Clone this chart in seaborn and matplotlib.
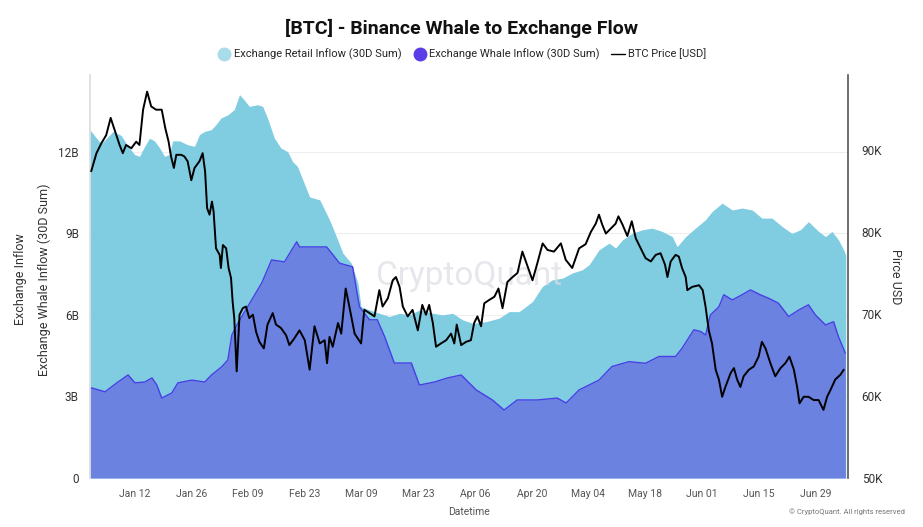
import pandas as pd
import seaborn as sns
import matplotlib.pyplot as plt
from matplotlib.lines import Line2D

start = pd.Timestamp("2026-01-01")

# retail inflow (30D sum), billions - days since Jan 1
retail_day = [0.0, 0.3, 1.6, 2.8, 5.7, 7.7, 9.4, 11.0, 12.2, 13.5, 14.7, 15.9, 17.2, 18.4, 19.6,
              20.4, 22.1, 24.1, 25.8, 27.0, 28.3, 29.9, 31.1, 32.3, 34.0, 35.6, 36.9, 38.1,
              39.3, 41.4, 42.6, 43.8, 45.5, 47.1, 48.8, 50.0, 51.2, 52.7, 54.2, 56.7, 59.1,
              60.8, 62.4, 64.5, 66.1, 66.9, 69.0, 71.4, 73.9, 76.4, 78.8, 81.3, 84.6, 87.0,
              89.5, 91.9, 94.4, 97.7, 101.0, 103.4, 105.9, 109.2, 111.6, 114.1, 116.6, 119.0,
              121.5, 123.2, 125.6, 128.1, 129.7, 131.4, 133.8, 136.3, 138.7, 141.2, 143.7,
              144.9, 147.0, 149.4, 151.9, 153.5, 156.0, 158.5, 160.9, 163.4, 165.8, 168.3,
              170.8, 173.2, 175.3, 177.3, 179.8, 181.5, 183.1, 184.7, 186.0, 186.5]
retail_val = [12.8, 12.75, 12.5, 12.3, 12.75, 12.6, 12.2, 11.9, 11.83, 12.2, 12.5, 12.4, 12.14, 11.83, 11.9,
              12.4, 12.4, 12.26, 12.2, 12.63, 12.75, 12.81, 13.0, 13.24, 13.36, 13.55, 14.1, 13.9,
              13.67, 13.73, 13.67, 13.24, 12.5, 12.14, 12.0, 11.64, 11.46, 10.9, 10.34, 10.23, 9.5,
              8.88, 8.27, 7.9, 7.17, 6.3, 6.18, 6.06, 5.94, 6.06, 6.0, 6.18, 6.06, 6.0,
              6.06, 5.82, 5.69, 5.75, 5.88, 6.12, 6.12, 6.49, 7.04, 7.29, 7.35, 7.54,
              7.66, 7.85, 8.39, 8.64, 8.46, 8.76, 9.0, 9.13, 9.19, 9.07, 8.88,
              8.51, 8.88, 9.19, 9.5, 9.8, 10.11, 9.86, 9.93, 9.86, 9.56, 9.56,
              9.25, 9.0, 9.13, 9.43, 9.07, 8.88, 9.07, 8.76, 8.39, 8.2]

# whale inflow (30D sum), billions
whale_day = [0, 0.5, 3.7, 6.9, 9.4, 11.1, 13.5, 15.3, 16.5, 17.7, 20.2, 21.7, 25.1, 28.3, 30.0,
             32.5, 34.0, 35.0, 36.5, 39.9, 42.4, 44.8, 48.0, 51.0, 51.7, 58.4, 61.6, 64.8,
             66.5, 69.0, 70.9, 72.7, 75.1, 79.3, 81.3, 85.0, 88.2, 91.6, 95.3, 99.3, 102.2,
             105.4, 110.3, 115.3, 117.5, 120.7, 125.6, 128.8, 133.0, 137.1, 140.4, 144.5,
             146.1, 149.0, 150.7, 151.9, 153.1, 155.2, 156.4, 158.5, 160.9, 163.0, 165.4,
             167.5, 169.9, 172.4, 174.9, 177.3, 179.0, 181.5, 183.5, 184.7, 186.4]
whale_val = [3.31, 3.31, 3.17, 3.53, 3.79, 3.5, 3.53, 3.68, 3.42, 2.94, 3.13, 3.5, 3.6, 3.53, 3.79,
             4.09, 4.34, 5.26, 5.7, 6.55, 7.18, 8.02, 7.95, 8.69, 8.5, 8.5, 7.9, 7.77,
             6.3, 5.82, 5.82, 5.2, 4.23, 4.23, 3.42, 3.53, 3.68, 3.79, 3.24, 2.87, 2.5,
             2.87, 2.87, 2.94, 2.76, 3.24, 3.6, 4.1, 4.28, 4.22, 4.47, 4.47,
             4.77, 5.45, 5.39, 5.26, 6.0, 6.3, 6.74, 6.55, 6.74, 6.92, 6.74,
             6.61, 6.43, 5.94, 6.18, 6.37, 6.0, 5.63, 5.75, 5.2, 4.59]

# BTC price, thousands USD
price_day = [0.3, 1.6, 2.8, 4.0, 5.1, 6.1, 7.3, 8.1, 8.9, 10.2, 11.4, 12.2, 13.1, 14.1, 15.1,
             16.3, 17.7, 18.6, 19.4, 20.0, 20.7, 21.3, 22.5, 23.3, 24.1, 25.0, 25.8, 27.0,
             27.8, 28.4, 28.9, 29.5, 30.1, 30.5, 31.1, 32.0, 32.3, 32.8, 33.6, 34.2, 34.8,
             35.2, 35.6, 36.2, 36.9, 37.7, 38.5, 39.3, 40.2, 41.0, 41.8, 42.9, 43.8, 45.1,
             45.9, 47.1, 48.4, 49.2, 50.4, 51.7, 53.0, 54.2, 55.4, 56.7, 57.9, 58.5, 59.1,
             59.9, 61.2, 62.0, 63.1, 64.0, 65.3, 66.9, 67.7, 69.0, 70.2, 71.4, 72.2, 73.5,
             74.7, 75.5, 76.4, 77.2, 78.4, 79.6, 80.9, 82.0, 82.9, 83.7, 84.6, 85.4, 86.6,
             87.9, 89.1, 89.9, 90.5, 91.6, 92.8, 94.0, 94.8, 95.6, 96.5, 97.3, 98.5, 99.8,
             100.8, 101.8, 103.0, 104.3, 105.5, 106.7, 108.0, 109.2, 110.4, 111.7, 112.9,
             114.5, 116.2, 117.4, 119.0, 120.7, 122.3, 123.6, 124.8, 125.6, 126.4, 127.3,
             128.5, 129.7, 130.4, 131.4, 132.6, 133.7, 134.7, 135.9, 137.1, 138.4, 139.6,
             140.8, 141.9, 142.5, 143.3, 144.5, 145.3, 146.1, 147.0, 147.4, 148.6, 150.3,
             151.2, 151.9, 152.7, 153.5, 154.4, 155.2, 156.0, 156.8, 158.1, 158.9, 159.7,
             160.5, 161.3, 162.6, 163.8, 165.0, 165.8, 166.7, 167.9, 169.1, 170.4, 171.6,
             172.6, 173.7, 174.5, 175.1, 176.1, 177.3, 178.6, 179.8, 181.0, 181.9, 182.7,
             183.9, 185.2, 186.0]
price_val = [87.4, 89.6, 90.8, 91.8, 93.9, 92.4, 90.6, 89.6, 90.6, 90.2, 91.0, 90.6, 94.9, 97.1, 95.3,
             94.9, 94.9, 92.6, 91.0, 89.2, 87.8, 89.4, 89.4, 89.2, 88.6, 86.3, 87.8, 88.6,
             89.6, 87.4, 82.9, 82.1, 83.7, 82.5, 78.0, 77.2, 75.6, 78.4, 78.0, 75.6, 74.4,
             71.5, 69.5, 63.0, 69.9, 70.7, 70.9, 69.5, 69.9, 67.8, 66.6, 65.8, 68.7, 70.1,
             68.7, 68.3, 67.4, 66.2, 67.0, 68.0, 66.8, 63.2, 68.5, 66.4, 66.8, 64.0, 67.2,
             66.0, 68.9, 67.6, 73.1, 70.9, 67.6, 66.4, 70.5, 70.1, 69.7, 72.9, 70.9, 71.9,
             74.1, 74.5, 73.3, 70.9, 69.7, 70.5, 68.0, 71.1, 69.9, 71.1, 68.9, 66.0, 66.4,
             66.8, 67.6, 66.4, 68.7, 66.2, 66.6, 66.8, 68.9, 69.7, 68.5, 71.3, 71.7, 72.1,
             73.1, 70.7, 73.9, 74.5, 75.0, 77.6, 75.8, 74.1, 76.2, 78.6, 77.8,
             77.6, 78.6, 76.6, 75.6, 78.0, 78.5, 80.0, 81.0, 82.1, 80.9, 79.8,
             80.4, 81.0, 81.9, 80.9, 79.5, 81.3, 79.2, 78.0, 76.8, 76.4, 77.2,
             77.4, 76.0, 74.5, 76.4, 77.2, 77.0, 75.6, 74.5, 72.9, 73.3, 73.5,
             72.9, 70.9, 68.0, 66.4, 63.2, 62.0, 59.9, 61.1, 62.8, 63.4, 62.0,
             61.1, 62.4, 63.2, 63.6, 64.8, 66.6, 65.8, 64.0, 62.4, 63.4, 64.0,
             64.8, 63.2, 61.1, 59.1, 59.9, 59.9, 59.5, 59.5, 58.3, 59.9, 60.7,
             62.0, 62.6, 63.2]

retail = pd.DataFrame({"date": start + pd.to_timedelta(retail_day, unit="D"), "value": retail_val})
whale = pd.DataFrame({"date": start + pd.to_timedelta(whale_day, unit="D"), "value": whale_val})
price = pd.DataFrame({"date": start + pd.to_timedelta(price_day, unit="D"), "value": price_val})

sns.set_theme(style="white")
plt.rcParams["font.family"] = ["Roboto", "DejaVu Sans"]

retail_c = "#80cde2"
whale_fill = "#6b82e0"
whale_edge = "#4a3ee6"

fig = plt.figure(figsize=(9.23, 5.27), dpi=100)
ax = fig.add_axes([0.0975, 0.093, 0.821, 0.765])

ax.fill_between(retail["date"], retail["value"], color=retail_c, lw=0)
ax.fill_between(whale["date"], whale["value"], color=whale_fill, lw=0)
sns.lineplot(data=whale, x="date", y="value", ax=ax, color=whale_edge, lw=1)

ax.set_xlim(start, start + pd.Timedelta(days=187))
ax.set_ylim(0, 14.83)
ax.set_yticks([0, 3, 6, 9, 12])
ax.set_yticklabels(["0", "3B", "6B", "9B", "12B"])
ticks = pd.date_range("2026-01-12", "2026-06-29", freq="14D")
ax.set_xticks(ticks)
ax.set_xticklabels([t.strftime("%b %d") for t in ticks])
ax.grid(axis="y", color="#eeeeee", lw=0.8)
ax.set_axisbelow(True)
ax.tick_params(axis="both", length=0, labelsize=7.5, labelcolor="#555555", pad=8)
ax.tick_params(axis="y", labelsize=8.5, labelcolor="#333333")
ax.set_xlabel("Datetime", fontsize=7.5, color="#555555", labelpad=6)
ax.set_ylabel("")
for s in ["top", "right", "bottom"]:
    ax.spines[s].set_visible(False)
ax.spines["left"].set_color("#dddddd")

fig.text(0.022, 0.47, "Exchange Inflow", rotation=90, ha="center", va="center", fontsize=9, color="#333333")
fig.text(0.048, 0.47, "Exchange Whale Inflow (30D Sum)", rotation=90, ha="center", va="center",
         fontsize=9, color="#333333")

ax2 = ax.twinx()
sns.lineplot(data=price, x="date", y="value", ax=ax2, color="black", lw=1.4)
ax2.set_ylim(50, 99.15)
ax2.set_yticks([50, 60, 70, 80, 90])
ax2.set_yticklabels(["50K", "60K", "70K", "80K", "90K"])
ax2.tick_params(axis="y", length=0, labelsize=8.5, labelcolor="#333333", pad=10)
ax2.set_ylabel("Pirce USD", rotation=270, fontsize=9, color="#333333", labelpad=14)
ax2.set_xlabel("")
for s in ["top", "left", "bottom"]:
    ax2.spines[s].set_visible(False)
ax2.spines["right"].set_color("#555555")
ax2.spines["right"].set_linewidth(1.2)

ax.text(0.5, 0.5, "CryptoQuant", transform=ax.transAxes, ha="center", va="center",
        fontsize=24, color="#dcdce4", alpha=0.7, zorder=5)

fig.suptitle("[BTC] - Binance Whale to Exchange Flow", y=0.965, fontsize=14, fontweight="bold", color="#111111")
handles = [
    Line2D([], [], marker="o", ls="", markersize=9, color="#a8dcea"),
    Line2D([], [], marker="o", ls="", markersize=9, color="#5a3de6"),
    Line2D([], [], color="black", lw=1),
]
fig.legend(handles, ["Exchange Retail Inflow (30D Sum)", "Exchange Whale Inflow (30D Sum)", "BTC Price [USD]"],
           loc="center", bbox_to_anchor=(0.5, 0.897), ncol=3, frameon=False, fontsize=8,
           handletextpad=0.2, columnspacing=1.0, handlelength=1.3)
fig.text(0.98, 0.03, "© CryptoQuant. All rights reserved", ha="right", va="center", fontsize=5.5, color="#777777")

fig.savefig("out.png", dpi=100)
